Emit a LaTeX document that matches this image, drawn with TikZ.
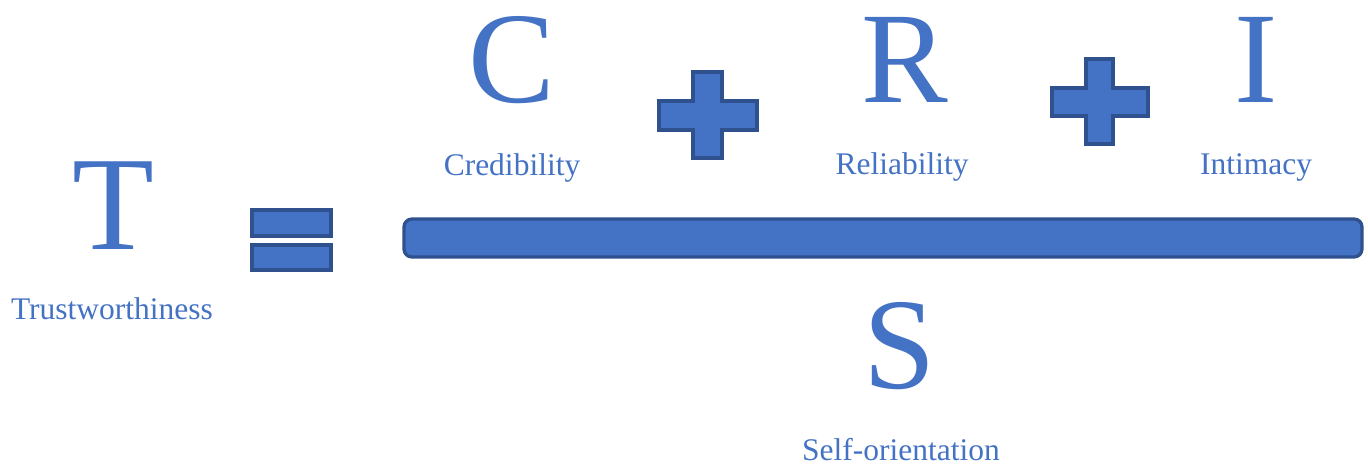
\documentclass[tikz,border=0pt]{standalone}
\usepackage{fontspec}
\setmainfont{Liberation Serif}
\definecolor{trustblue}{HTML}{4472C4}
\definecolor{trustedge}{HTML}{2F528F}
\begin{document}
\begin{tikzpicture}[x=1pt,y=-1pt,
  bigletter/.style={anchor=base,inner sep=0pt,text=trustblue,font=\fontsize{130}{130}\selectfont},
  caption/.style={anchor=base,inner sep=0pt,text=trustblue,font=\fontsize{31.5}{32}\selectfont},
  symbolshape/.style={fill=trustblue,draw=trustedge,line width=3.3pt,line join=miter}]
\useasboundingbox (0,0) rectangle (1368,466);

% left-hand side: T = ...
\node[bigletter,font=\fontsize{134}{134}\selectfont] (T) at (113,249) {T};
\node[caption] (Tlab) at (112,319) {Trustworthiness};

% equals sign
\draw[symbolshape] (252,210) rectangle (331,236);
\draw[symbolshape] (252,245) rectangle (331,270);

% numerator: C + R + I
\node[bigletter] (C) at (512,102) {C};
\node[caption] (Clab) at (512,175) {Credibility};
\node[bigletter] (R) at (905,102) {R};
\node[caption] (Rlab) at (902,174) {Reliability};
\node[bigletter] (I) at (1256,102) {I};
\node[caption] (Ilab) at (1256,174) {Intimacy};

% plus signs
\draw[symbolshape] (693,72) -- (722,72) -- (722,101) -- (757,101) -- (757,130) -- (722,130)
  -- (722,158) -- (693,158) -- (693,130) -- (659,130) -- (659,101) -- (693,101) -- cycle;
\draw[symbolshape] (1086,59) -- (1113,59) -- (1113,88) -- (1148,88) -- (1148,116) -- (1113,116)
  -- (1113,144) -- (1086,144) -- (1086,116) -- (1052,116) -- (1052,88) -- (1086,88) -- cycle;

% fraction bar
\draw[symbolshape,rounded corners=8pt] (404,219) rectangle (1362,257);

% denominator: S
\node[bigletter] (S) at (900,388) {S};
\node[caption] (Slab) at (901,460) {Self-orientation};
\end{tikzpicture}
\end{document}
